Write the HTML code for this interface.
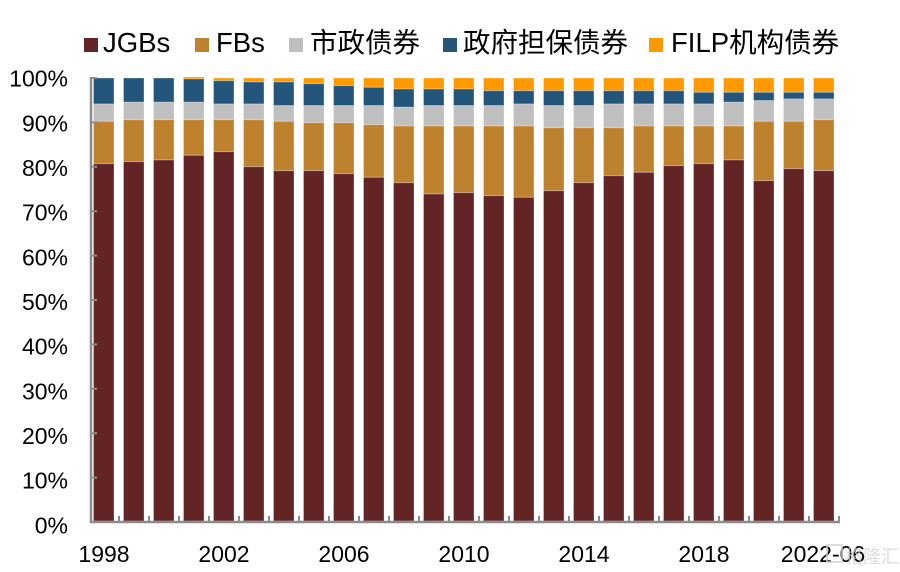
<!DOCTYPE html>
<html><head><meta charset="utf-8"><style>
html,body{margin:0;padding:0;background:#fff;}
svg{display:block;}
text{font-family:"Liberation Sans","Noto Sans CJK SC",sans-serif;fill:#000;}
</style></head><body>
<svg width="900" height="572" viewBox="0 0 900 572" xmlns="http://www.w3.org/2000/svg">
<!-- legend -->
<g font-size="27.5">
<rect x="84" y="38" width="14" height="14" fill="#622425"/><text x="103" y="52">JGBs</text>
<rect x="195" y="38" width="14" height="14" fill="#BE812E"/><text x="216" y="52">FBs</text>
<rect x="289" y="38" width="14" height="14" fill="#BFBFBF"/><text x="310" y="52">市政债券</text>
<rect x="443" y="38" width="14" height="14" fill="#24557B"/><text x="463" y="52">政府担保债券</text>
<rect x="649" y="38" width="14" height="14" fill="#FF9900"/><text x="671" y="52">FILP机构债券</text>
</g>
<g stroke="#fff" stroke-opacity="0.3" stroke-width="1">
<!-- orange -->
<g fill="#FF9900">
<rect x="183.5" y="77" width="20.5" height="2"/>
<rect x="213.5" y="78" width="20.5" height="2.7"/>
<rect x="243.5" y="78" width="20.5" height="4"/>
<rect x="273.5" y="78" width="20.5" height="4"/>
<rect x="303.5" y="78" width="20.5" height="5.7"/>
<rect x="333.5" y="78" width="20.5" height="7.7"/>
<rect x="363.5" y="78" width="20.5" height="9.3"/>
<rect x="393.5" y="78" width="20.5" height="11"/>
<rect x="423.5" y="78" width="20.5" height="11"/>
<rect x="453.5" y="78" width="20.5" height="11"/>
<rect x="483.5" y="78" width="20.5" height="12.7"/>
<rect x="513.5" y="78" width="20.5" height="12.7"/>
<rect x="543.5" y="78" width="20.5" height="12.7"/>
<rect x="573.5" y="78" width="20.5" height="12.7"/>
<rect x="603.5" y="78" width="20.5" height="12.7"/>
<rect x="633.5" y="78" width="20.5" height="12.7"/>
<rect x="663.5" y="78" width="20.5" height="12.7"/>
<rect x="693.5" y="78" width="20.5" height="14.3"/>
<rect x="723.5" y="78" width="20.5" height="14.3"/>
<rect x="753.5" y="78" width="20.5" height="14.3"/>
<rect x="783.5" y="78" width="20.5" height="14.3"/>
<rect x="813.5" y="78" width="20.5" height="14.3"/>
</g>
<!-- blue -->
<g fill="#24557B">
<rect x="93.5" y="78" width="20.5" height="26"/>
<rect x="123.5" y="78" width="20.5" height="24.3"/>
<rect x="153.5" y="78" width="20.5" height="24.3"/>
<rect x="183.5" y="79" width="20.5" height="23.3"/>
<rect x="213.5" y="80.7" width="20.5" height="23.3"/>
<rect x="243.5" y="82" width="20.5" height="22"/>
<rect x="273.5" y="82" width="20.5" height="23.7"/>
<rect x="303.5" y="83.7" width="20.5" height="22"/>
<rect x="333.5" y="85.7" width="20.5" height="20"/>
<rect x="363.5" y="87.3" width="20.5" height="18.4"/>
<rect x="393.5" y="89" width="20.5" height="18.3"/>
<rect x="423.5" y="89" width="20.5" height="16.7"/>
<rect x="453.5" y="89" width="20.5" height="16.7"/>
<rect x="483.5" y="90.7" width="20.5" height="15"/>
<rect x="513.5" y="90.7" width="20.5" height="13.3"/>
<rect x="543.5" y="90.7" width="20.5" height="15"/>
<rect x="573.5" y="90.7" width="20.5" height="15"/>
<rect x="603.5" y="90.7" width="20.5" height="13.3"/>
<rect x="633.5" y="90.7" width="20.5" height="13.3"/>
<rect x="663.5" y="90.7" width="20.5" height="13.3"/>
<rect x="693.5" y="92.3" width="20.5" height="11.7"/>
<rect x="723.5" y="92.3" width="20.5" height="10"/>
<rect x="753.5" y="92.3" width="20.5" height="8.4"/>
<rect x="783.5" y="92.3" width="20.5" height="6.7"/>
<rect x="813.5" y="92.3" width="20.5" height="6.7"/>
</g>
<!-- gray -->
<g fill="#BFBFBF">
<rect x="93.5" y="104" width="20.5" height="17.3"/>
<rect x="123.5" y="102.3" width="20.5" height="17.4"/>
<rect x="153.5" y="102.3" width="20.5" height="17.4"/>
<rect x="183.5" y="102.3" width="20.5" height="17.4"/>
<rect x="213.5" y="104" width="20.5" height="15.7"/>
<rect x="243.5" y="104" width="20.5" height="15.7"/>
<rect x="273.5" y="105.7" width="20.5" height="15.6"/>
<rect x="303.5" y="105.7" width="20.5" height="17"/>
<rect x="333.5" y="105.7" width="20.5" height="17"/>
<rect x="363.5" y="105.7" width="20.5" height="19"/>
<rect x="393.5" y="107.3" width="20.5" height="18.7"/>
<rect x="423.5" y="105.7" width="20.5" height="20.3"/>
<rect x="453.5" y="105.7" width="20.5" height="20.3"/>
<rect x="483.5" y="105.7" width="20.5" height="20.3"/>
<rect x="513.5" y="104" width="20.5" height="22"/>
<rect x="543.5" y="105.7" width="20.5" height="22"/>
<rect x="573.5" y="105.7" width="20.5" height="22"/>
<rect x="603.5" y="104" width="20.5" height="23.7"/>
<rect x="633.5" y="104" width="20.5" height="22"/>
<rect x="663.5" y="104" width="20.5" height="22"/>
<rect x="693.5" y="104" width="20.5" height="22"/>
<rect x="723.5" y="102.3" width="20.5" height="23.7"/>
<rect x="753.5" y="100.7" width="20.5" height="20.6"/>
<rect x="783.5" y="99" width="20.5" height="22.3"/>
<rect x="813.5" y="99" width="20.5" height="20.7"/>
</g>
<!-- FBs -->
<g fill="#BE812E">
<rect x="93.5" y="121.3" width="20.5" height="42.4"/>
<rect x="123.5" y="119.7" width="20.5" height="42"/>
<rect x="153.5" y="119.7" width="20.5" height="40.3"/>
<rect x="183.5" y="119.7" width="20.5" height="35.6"/>
<rect x="213.5" y="119.7" width="20.5" height="32"/>
<rect x="243.5" y="119.7" width="20.5" height="47"/>
<rect x="273.5" y="121.3" width="20.5" height="49.4"/>
<rect x="303.5" y="122.7" width="20.5" height="48"/>
<rect x="333.5" y="122.7" width="20.5" height="51"/>
<rect x="363.5" y="124.7" width="20.5" height="52.6"/>
<rect x="393.5" y="126" width="20.5" height="56.7"/>
<rect x="423.5" y="126" width="20.5" height="68"/>
<rect x="453.5" y="126" width="20.5" height="66.7"/>
<rect x="483.5" y="126" width="20.5" height="69.7"/>
<rect x="513.5" y="126" width="20.5" height="71.3"/>
<rect x="543.5" y="127.7" width="20.5" height="63"/>
<rect x="573.5" y="127.7" width="20.5" height="55"/>
<rect x="603.5" y="127.7" width="20.5" height="48"/>
<rect x="633.5" y="126" width="20.5" height="46.3"/>
<rect x="663.5" y="126" width="20.5" height="39.7"/>
<rect x="693.5" y="126" width="20.5" height="37.7"/>
<rect x="723.5" y="126" width="20.5" height="34"/>
<rect x="753.5" y="121.3" width="20.5" height="59.4"/>
<rect x="783.5" y="121.3" width="20.5" height="47.4"/>
<rect x="813.5" y="119.7" width="20.5" height="51"/>
</g>
<!-- JGBs -->
<g fill="#622425">
<rect x="93.5" y="163.7" width="20.5" height="357.3"/>
<rect x="123.5" y="161.7" width="20.5" height="359.3"/>
<rect x="153.5" y="160" width="20.5" height="361"/>
<rect x="183.5" y="155.3" width="20.5" height="365.7"/>
<rect x="213.5" y="151.7" width="20.5" height="369.3"/>
<rect x="243.5" y="166.7" width="20.5" height="354.3"/>
<rect x="273.5" y="170.7" width="20.5" height="350.3"/>
<rect x="303.5" y="170.7" width="20.5" height="350.3"/>
<rect x="333.5" y="173.7" width="20.5" height="347.3"/>
<rect x="363.5" y="177.3" width="20.5" height="343.7"/>
<rect x="393.5" y="182.7" width="20.5" height="338.3"/>
<rect x="423.5" y="194" width="20.5" height="327"/>
<rect x="453.5" y="192.7" width="20.5" height="328.3"/>
<rect x="483.5" y="195.7" width="20.5" height="325.3"/>
<rect x="513.5" y="197.3" width="20.5" height="323.7"/>
<rect x="543.5" y="190.7" width="20.5" height="330.3"/>
<rect x="573.5" y="182.7" width="20.5" height="338.3"/>
<rect x="603.5" y="175.7" width="20.5" height="345.3"/>
<rect x="633.5" y="172.3" width="20.5" height="348.7"/>
<rect x="663.5" y="165.7" width="20.5" height="355.3"/>
<rect x="693.5" y="163.7" width="20.5" height="357.3"/>
<rect x="723.5" y="160" width="20.5" height="361"/>
<rect x="753.5" y="180.7" width="20.5" height="340.3"/>
<rect x="783.5" y="168.7" width="20.5" height="352.3"/>
<rect x="813.5" y="170.7" width="20.5" height="350.3"/>
</g>
</g>
<!-- axes -->
<g stroke="#8C8C8C" fill="none">
<line x1="91" y1="77" x2="91" y2="523" stroke-width="2.5"/>
<line x1="90" y1="522" x2="840" y2="522" stroke-width="2.5"/>
<path stroke-width="2" d="M91 78H97M91 122.4H97M91 166.8H97M91 211.2H97M91 255.6H97M91 300H97M91 344.4H97M91 388.8H97M91 433.2H97M91 477.6H97
M119 516V522M149 516V522M179 516V522M209 516V522M239 516V522M269 516V522M299 516V522M329 516V522M359 516V522M389 516V522M419 516V522M449 516V522M479 516V522M509 516V522M539 516V522M569 516V522M599 516V522M629 516V522M659 516V522M689 516V522M719 516V522M749 516V522M779 516V522M809 516V522M839 516V522"/>
</g>
<!-- y labels -->
<g font-size="23" text-anchor="end">
<text x="68" y="86.7">100%</text>
<text x="68" y="131.4">90%</text>
<text x="68" y="176">80%</text>
<text x="68" y="220.7">70%</text>
<text x="68" y="265.4">60%</text>
<text x="68" y="310">50%</text>
<text x="68" y="354.7">40%</text>
<text x="68" y="399.4">30%</text>
<text x="68" y="444">20%</text>
<text x="68" y="488.7">10%</text>
<text x="68" y="533.4">0%</text>
</g>
<!-- x labels -->
<g font-size="23" text-anchor="middle">
<text x="104" y="562">1998</text>
<text x="224" y="562">2002</text>
<text x="344" y="562">2006</text>
<text x="464" y="562">2010</text>
<text x="584" y="562">2014</text>
<text x="704" y="562">2018</text>
<text x="823" y="562">2022-06</text>
</g>
<!-- watermark -->
<g opacity="0.75">
<rect x="827" y="545" width="15" height="17" fill="none" stroke="#d0d0d0" stroke-width="2"/>
<text x="845" y="563" font-size="18" style="fill:#d0d0d0">格隆汇</text>
</g>
</svg>
</body></html>
